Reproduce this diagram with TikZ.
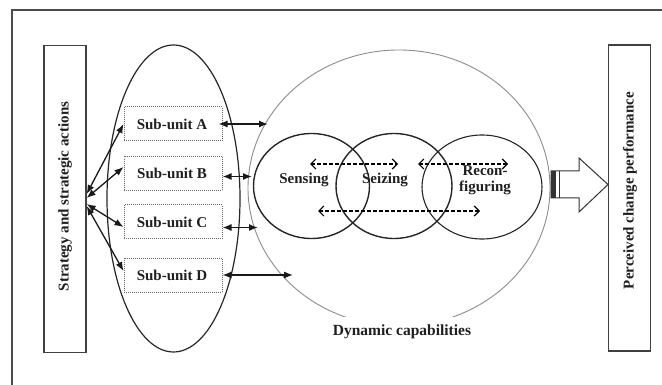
\documentclass[tikz,border=0pt]{standalone}
\usepackage{fontspec}
\setmainfont{Liberation Serif}
\usetikzlibrary{shapes.geometric,arrows.meta}
\begin{document}
\begin{tikzpicture}[x=1pt,y=-1pt,
  lbl/.style={font=\bfseries\fontsize{15}{16}\selectfont, text=black!88, inner sep=0pt},
  sidebox/.style={draw=black!75, line width=1.3pt, minimum width=42pt, minimum height=307pt, inner sep=0pt},
  subbox/.style={draw=black!60, densely dotted, line width=1pt, minimum width=98pt, minimum height=34pt, inner sep=0pt},
  capcirc/.style={draw=black!85, line width=1.4pt, ellipse, minimum width=116pt, minimum height=105pt, inner sep=0pt},
  solidarr/.style={{Latex[length=9pt,width=7pt]}-{Latex[length=9pt,width=7pt]}, line width=1.3pt, draw=black!90},
  dasharr/.style={{Straight Barb[length=5pt,width=10pt]}-{Straight Barb[length=5pt,width=10pt]}, dash pattern=on 4pt off 2pt, line width=1.2pt}
]
\useasboundingbox (0,0) rectangle (662,385);
% frame
\draw[black!70, line width=1.3pt] (12,385) -- (12,10) -- (662,10);

% side boxes
\node[sidebox] (S) at (65,199) {};
\node[lbl, rotate=90] (St) at (65,196.5) {Strategy and strategic actions};
\node[sidebox, minimum height=306pt] (P) at (629.5,198) {};
\node[lbl, rotate=90] (Pt) at (630,190.5) {Perceived change performance};

% sub-unit container
\node[draw=black!85, line width=1.2pt, ellipse, minimum width=133pt, minimum height=307pt, inner sep=0pt] (U) at (173.5,198.5) {};

% sub-units
\node[subbox] (A) at (173,124) {};
\node[subbox] (B) at (173,173.5) {};
\node[subbox] (C) at (173,222) {};
\node[subbox] (D) at (173,275) {};
\node[lbl] (At) at (172,124) {Sub-unit A};
\node[lbl] (Bt) at (172,173.5) {Sub-unit B};
\node[lbl] (Ct) at (172,222) {Sub-unit C};
\node[lbl] (Dt) at (172,275) {Sub-unit D};

% dynamic capabilities
\node[draw=black!45, line width=0.9pt, ellipse, minimum width=302pt, minimum height=276pt, inner sep=0pt] (DC) at (399,188) {};
\node[lbl, fill=white, minimum height=30pt, inner xsep=4pt, font=\bfseries\fontsize{15.5}{16}\selectfont] (DCt) at (402,332) {Dynamic capabilities};

\node[capcirc] (Sen) at (311.5,186) {};
\node[capcirc] (Sei) at (394,186) {};
\node[capcirc, line width=1.1pt, minimum width=120pt, minimum height=104pt] (Rec) at (482,187) {};
\node[lbl] (Sent) at (304,180) {Sensing};
\node[lbl] (Seit) at (385,180) {Seizing};
\node[lbl, align=center, font=\bfseries\fontsize{15}{16}\selectfont] (Rect) at (485,180) {Recon-\\figuring};

% arrows strategy <-> sub-units
\draw[solidarr] ([yshift=5pt]S.east) -- (A.west);
\draw[solidarr] ([yshift=1pt]S.east) -- ([yshift=6.5pt]B.west);
\draw[solidarr] ([yshift=-5pt]S.east) -- ([yshift=-5pt]C.west);
\draw[solidarr] ([yshift=-7pt]S.east) -- ([yshift=4pt]D.west);

% arrows sub-units <-> dynamic capabilities
\coordinate (aE) at (268,124);
\coordinate (bE) at (252,176.5);
\coordinate (cE) at (258,227.5);
\coordinate (dE) at (293,275);
\draw[solidarr] ([xshift=-4pt]A.east) -- (aE);
\draw[solidarr] ([yshift=-3pt]B.east) -- (bE);
\draw[solidarr] ([yshift=-5.5pt]C.east) -- (cE);
\draw[solidarr] (D.east) -- (dE);

% dashed arrows among capabilities
\coordinate (d1a) at (310,164);
\coordinate (d1b) at (398,164);
\coordinate (d2a) at (418,164);
\coordinate (d2b) at (508,164);
\coordinate (d3a) at (318,211);
\coordinate (d3b) at (480,211);
\draw[dasharr] (d1a) -- (d1b);
\draw[dasharr] (d2a) -- (d2b);
\draw[dasharr] (d3a) -- (d3b);

% block arrow to performance
\draw[black!80, line width=1pt, fill=white] (551,171) -- (579,171) -- (579,158) -- (608,184.5) -- (579,212) -- (579,198) -- (551,198) -- cycle;
\fill[black!80] (551,171) rectangle (555.5,198);
\draw[black!80, line width=1.6pt] (559.5,171) -- (559.5,198);
\end{tikzpicture}
\end{document}
